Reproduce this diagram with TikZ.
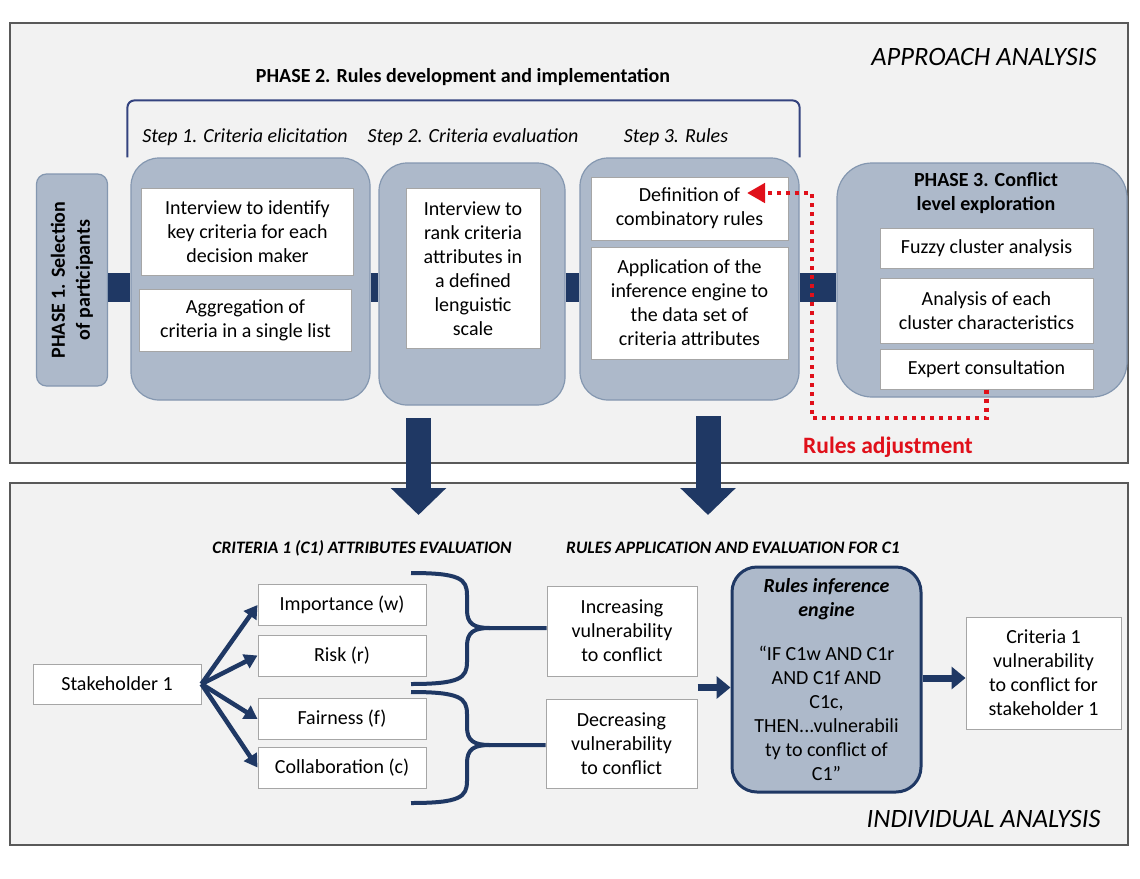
\documentclass[tikz,border=0pt]{standalone}
\usepackage{fontspec}
\setmainfont{Carlito}
\usetikzlibrary{calc}
\usetikzlibrary{arrows.meta}
\usetikzlibrary{positioning}
\definecolor{navy}{HTML}{1F3864}
\definecolor{phasefill}{HTML}{ADB9CA}
\definecolor{phaseline}{HTML}{8497B0}
\definecolor{panelfill}{HTML}{F2F2F2}
\definecolor{panelline}{HTML}{595959}
\definecolor{bracketblue}{HTML}{34437F}
\definecolor{adjred}{HTML}{E0101A}

\begin{document}
\begin{tikzpicture}[x=1pt, y=-1pt,
 panel/.style={draw=panelline, line width=1.5pt, fill=panelfill},
 phase/.style={draw=phaseline, line width=1.2pt, fill=phasefill, rounded corners=28pt},
 wbox/.style={draw=gray!70, line width=1pt, fill=white, align=center, inner sep=2pt, font=\fontsize{20}{24}\selectfont},
 bar/.style={navy, line width=29pt},
 fat/.style={navy, line width=7pt, -{Triangle[width=22pt,length=14pt]}},
 thin/.style={navy, line width=4.5pt, -{Triangle[width=15pt,length=13pt]}},
 down/.style={navy, line width=25pt, -{Triangle[width=54pt,length=27pt]}},
 brace/.style={navy, line width=4pt},
 steplbl/.style={font=\itshape\fontsize{20}{22}\selectfont},
 caps/.style={font=\bfseries\itshape\fontsize{17.5}{20}\selectfont}
]
\useasboundingbox (0,0) rectangle (1140,878);
% panels
\node[panel, minimum width=1118pt, minimum height=440pt] (approach) at (569,243) {};
\node[panel, minimum width=1118pt, minimum height=362pt] (individual) at (569,664) {};
\node[anchor=east, font=\itshape\fontsize{26.5}{28}\selectfont] (apTitle) at (1100,57) {APPROACH ANALYSIS};
\node[anchor=east, font=\itshape\fontsize{26.5}{28}\selectfont] (inTitle) at (1104,819) {INDIVIDUAL ANALYSIS};

% phase 1
\node[phase, rounded corners=10pt, minimum width=71pt, minimum height=212pt] (p1) at (72,280) {};
\node[rotate=90, align=center, font=\bfseries\fontsize{20}{25}\selectfont] (p1txt) at (p1.center) {PHASE 1. Selection\\of participants};

% phase 2 steps
\node[phase, minimum width=239pt, minimum height=242pt] (s1) at (250.5,279) {};
\node[phase, minimum width=186pt, minimum height=242pt] (s2) at (472,284) {};
\node[phase, minimum width=219pt, minimum height=242pt] (s3) at (689.5,279) {};
\node[wbox, minimum width=212pt, minimum height=87pt] (s1a) at (247.5,231.5) {Interview to identify\\key criteria for each\\decision maker};
\node[wbox, minimum width=212pt, minimum height=62pt] (s1b) at (245.5,320) {Aggregation of\\criteria in a single list};
\node[wbox, minimum width=134pt, minimum height=160pt] (s2a) at (473,268.5) {Interview to\\rank criteria\\attributes in\\a defined\\lenguistic\\scale};
\node[wbox, minimum width=197pt, minimum height=63pt] (s3a) at (689.5,208.5) {Definition of\\combinatory rules};
\node[wbox, minimum width=197pt, minimum height=112pt] (s3b) at (689.5,303) {Application of the\\inference engine to\\the data set of\\criteria attributes};
\node[steplbl] (l1) at (245,137) {Step 1. Criteria elicitation};
\node[steplbl] (l2) at (473,137) {Step 2. Criteria evaluation};
\node[steplbl] (l3) at (676,137) {Step 3. Rules};
\draw[bracketblue, line width=2pt, rounded corners=7pt] ([xshift=-3pt]s1.north west) -- ([xshift=-3pt,yshift=57pt]s1.north west) -- ([yshift=57pt]s1.north west -| s3.north east) -- (s3.north east);
\node[font=\bfseries\fontsize{20}{22}\selectfont] (p2title) at (463,77) {PHASE 2. Rules development and implementation};

% phase 3
\node[phase, rounded corners=35pt, minimum width=290pt, minimum height=234pt] (p3) at (982,280) {};
\node[align=center, font=\bfseries\fontsize{20}{24}\selectfont] (p3title) at (986,193) {PHASE 3. Conflict\\level exploration};
\node[wbox, minimum width=213pt, minimum height=40pt] (p3a) at (986.5,248) {Fuzzy cluster analysis};
\node[wbox, minimum width=213pt, minimum height=65pt] (p3b) at (986.5,310.5) {Analysis of each\\cluster characteristics};
\node[wbox, minimum width=213pt, minimum height=40pt] (p3c) at (986.5,369) {Expert consultation};

% bars between phases
\coordinate (lvl) at (0,287);
\foreach \a/\b in {p1/s1, s1/s2, s2/s3, s3/p3} {
 \draw[bar] (\a.east |- lvl) -- (\b.west |- lvl);
}

% rules adjustment loop
\coordinate (adj) at (812,418);
\coordinate (tip) at (747,193);
\draw[adjred, line width=4.5pt, dash pattern=on 4.5pt off 4.5pt, -{Triangle[width=19pt,length=18pt]}] (p3c.south) |- (adj) |- (tip);
\node[text=adjred, font=\bfseries\fontsize{23.5}{26}\selectfont] (adjtxt) at (888,447) {Rules adjustment};

% down arrows
\coordinate (d1) at (418.5,418);
\coordinate (d2) at (708,416);
\draw[down] (d1) -- ++(0,97);
\draw[down] (d2) -- ++(0,99);

% individual analysis
\node[caps] (c1title) at (362,548) {CRITERIA 1 (C1) ATTRIBUTES EVALUATION};
\node[caps] (rtitle) at (733,548) {RULES APPLICATION AND EVALUATION FOR C1};
\node[wbox, minimum width=168pt, minimum height=40pt] (stake) at (117,684) {Stakeholder 1};
\foreach \n/\y/\t in {imp/605/Importance (w), risk/655.5/Risk (r), fair/719/Fairness (f), coll/767.5/Collaboration (c)} {
 \node[wbox, minimum width=168pt, minimum height=41pt] (\n) at (342,\y) {\t};
 \draw[thin] (stake.east) -- (\n.west);
}
\node[wbox, minimum width=150pt, minimum height=90pt] (inc) at (622,631) {Increasing\\vulnerability\\to conflict};
\node[wbox, minimum width=151pt, minimum height=89pt] (dec) at (621.5,743.5) {Decreasing\\vulnerability\\to conflict};
\foreach \t/\m/\b/\n in {573/628/684/inc, 692/745/803/dec} {
 \draw[brace] (411,\t) .. controls (460,\t) and (467,\t+6) .. (467,\t+22) -- (467,\m-18) .. controls (467,\m-4) and (474,\m) .. (490,\m) -- (\n.west |- 0,\m);
 \draw[brace] (490,\m) .. controls (474,\m) and (467,\m+4) .. (467,\m+18) -- (467,\b-22) .. controls (467,\b-6) and (460,\b) .. (411,\b);
}
\node[phase, draw=navy, line width=3pt, rounded corners=25pt, minimum width=189pt, minimum height=225pt, align=center, font=\fontsize{20}{24}\selectfont] (eng) at (826.5,679.5) {\textbf{\textit{Rules inference}}\\\textbf{\textit{engine}}\\[20pt]“IF C1w AND C1r\\AND C1f AND\\C1c,\\THEN...vulnerabili\\ty to conflict of\\C1”};
\node[wbox, minimum width=155pt, minimum height=112pt] (out) at (1043.5,673) {Criteria 1\\vulnerability\\to conflict for\\stakeholder 1};
\coordinate (mid) at ($(inc.south east)!0.5!(dec.north east)$);
\draw[fat] (mid) -- (eng.west |- mid);
\draw[fat] (eng.east |- 0,678) -- (out.west |- 0,678);
\end{tikzpicture}
\end{document}
